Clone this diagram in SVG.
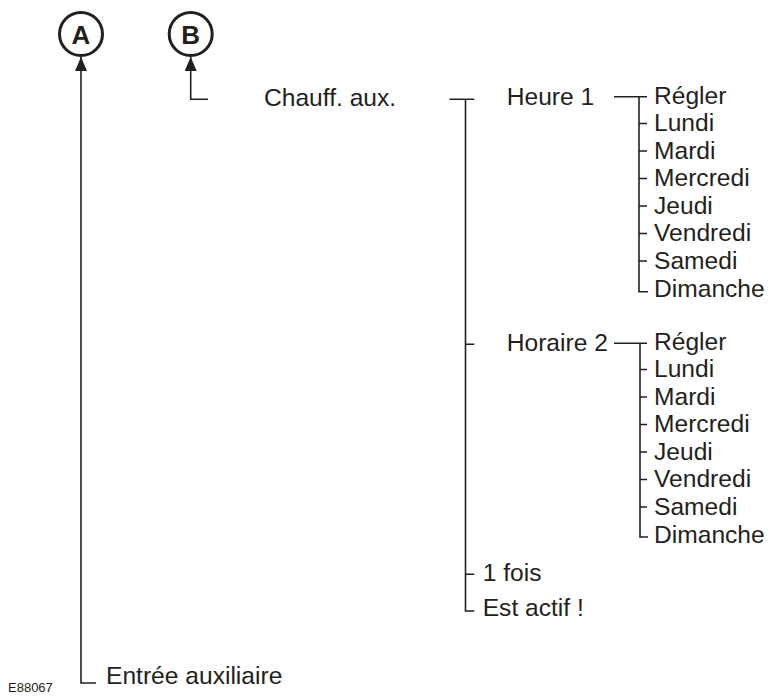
<svg xmlns="http://www.w3.org/2000/svg" width="773" height="698" viewBox="0 0 773 698">
<style>
.t{font-family:"Liberation Sans",Arial,sans-serif;font-size:24.6px;fill:#231f20}
.c{fill:none;stroke:#231f20;stroke-width:1.6}
.ci{fill:#fff;stroke:#231f20;stroke-width:3}
.l{font-family:"Liberation Sans",Arial,sans-serif;font-size:26px;font-weight:bold;fill:#231f20;text-anchor:middle}
.id{font-family:"Liberation Sans",Arial,sans-serif;font-size:13px;fill:#231f20}
</style>
<defs>
<marker id="ah" viewBox="0 0 14 12" refX="14" refY="6" markerWidth="14" markerHeight="12" markerUnits="userSpaceOnUse" orient="auto">
<path d="M0,0 L14,6 L0,12 Z" fill="#231f20"/>
</marker>
</defs>
<rect width="773" height="698" fill="#fff"/>
<g id="connectors">
<path class="c" d="M96,683 H81 V57" marker-end="url(#ah)"/>
<path class="c" d="M208,99.3 H190.7 V57" marker-end="url(#ah)"/>
<path class="c" d="M449.5,99.3 H474.3 M465.5,99.3 V611 H474.3 M465.5,344.3 H474.3 M465.5,574.3 H474.3"/>
<path class="c" d="M614,96.7 H647 M639,96.7 V291.7 H648 M639,123.5 H647 M639,151 H647 M639,178.5 H647 M639,206 H647 M639,233.5 H647 M639,261 H647"/>
<path class="c" d="M614,343.3 H647 M640,343.3 V537 H648 M640,369.5 H647 M640,397 H647 M640,424.5 H647 M640,452 H647 M640,479.5 H647 M640,507 H647"/>
</g>
<g id="nodeA"><circle class="ci" cx="81" cy="34" r="21.5"/><text class="l" x="81" y="43.5">A</text></g>
<g id="nodeB"><circle class="ci" cx="190.7" cy="34" r="21.5"/><text class="l" x="190.7" y="43.5">B</text></g>
<g id="chauff"><text class="t" x="264" y="106">Chauff. aux.</text></g>
<g id="heure1"><text class="t" x="506.7" y="105">Heure 1</text></g>
<g id="heure1-days">
<text class="t" x="654" y="103.5">Régler</text>
<text class="t" x="654" y="131">Lundi</text>
<text class="t" x="654" y="158.5">Mardi</text>
<text class="t" x="654" y="186">Mercredi</text>
<text class="t" x="654" y="213.5">Jeudi</text>
<text class="t" x="654" y="241">Vendredi</text>
<text class="t" x="654" y="268.5">Samedi</text>
<text class="t" x="654" y="296.5">Dimanche</text>
</g>
<g id="horaire2"><text class="t" x="506.7" y="351">Horaire 2</text></g>
<g id="horaire2-days">
<text class="t" x="654" y="350">Régler</text>
<text class="t" x="654" y="377">Lundi</text>
<text class="t" x="654" y="404.5">Mardi</text>
<text class="t" x="654" y="432">Mercredi</text>
<text class="t" x="654" y="459.5">Jeudi</text>
<text class="t" x="654" y="487">Vendredi</text>
<text class="t" x="654" y="514.5">Samedi</text>
<text class="t" x="654" y="543">Dimanche</text>
</g>
<g id="unefois"><text class="t" x="482.7" y="581">1 fois</text></g>
<g id="estactif"><text class="t" x="482.7" y="616">Est actif !</text></g>
<g id="entree"><text class="t" x="106" y="684">Entrée auxiliaire</text></g>
<text class="id" x="8" y="691.5">E88067</text>
</svg>
